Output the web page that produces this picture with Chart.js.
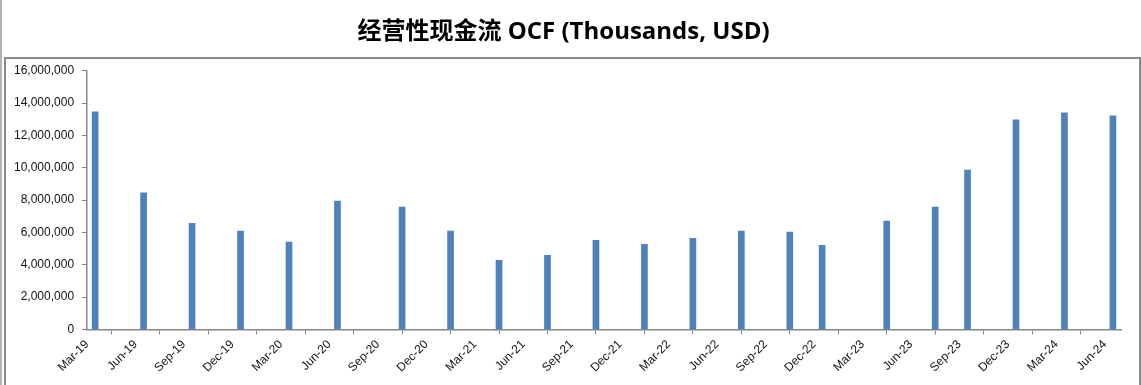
<!DOCTYPE html>
<html>
<head>
<meta charset="utf-8">
<script src="https://cdn.jsdelivr.net/npm/chart.js@4.4.1/dist/chart.umd.min.js"></script>
<style>
  html, body { margin: 0; padding: 0; background: #fff; overflow: hidden; }
  #wrap { position: relative; width: 1141px; height: 385px; }
  #outerLine { position: absolute; left: 0; top: 0; width: 2px; height: 385px; background: #b4b4b4; }
  #plotBox { position: absolute; left: 4px; top: 57px; width: 1133px; height: 340px;
             border: 2px solid #8a8a8a; pointer-events: none; }
  canvas { position: absolute; left: 0; top: 0; }
</style>
</head>
<body>
<div id="wrap">
  <div id="outerLine"></div>
  <div id="plotBox"></div>
  <canvas id="ocfChart" width="1141" height="385"></canvas>
</div>
<script>
// Chart data
const barMonths = ["Mar-19", "Jun-19", "Sep-19", "Dec-19", "Mar-20", "Jun-20", "Oct-20", "Jan-21",
  "Apr-21", "Jul-21", "Oct-21", "Jan-22", "Apr-22", "Jul-22", "Oct-22", "Dec-22",
  "Apr-23", "Jul-23", "Sep-23", "Dec-23", "Mar-24", "Jun-24"];
const ocfValues = [13460000, 8450000, 6570000, 6080000, 5400000, 7940000, 7570000, 6080000,
  4280000, 4590000, 5520000, 5270000, 5640000, 6080000, 6020000, 5210000,
  6700000, 7570000, 9860000, 12960000, 13400000, 13210000];
const tickLabels = ["Mar-19", "Jun-19", "Sep-19", "Dec-19", "Mar-20", "Jun-20", "Sep-20", "Dec-20",
  "Mar-21", "Jun-21", "Sep-21", "Dec-21", "Mar-22", "Jun-22", "Sep-22", "Dec-22",
  "Mar-23", "Jun-23", "Sep-23", "Dec-23", "Mar-24", "Jun-24"];

const monthNames = ["Jan", "Feb", "Mar", "Apr", "May", "Jun", "Jul", "Aug", "Sep", "Oct", "Nov", "Dec"];

// month slot counted from Mar-19 (date axis with month base unit)
function monthIndex(label) {
  const [m, y] = label.split("-");
  return (Number(y) - 19) * 12 + monthNames.indexOf(m) - 2;
}

const points = barMonths.map((m, i) => ({ x: monthIndex(m) + 0.5, y: ocfValues[i] }));
const lastMonth = monthIndex(tickLabels[tickLabels.length - 1]) + 1;

const axisGrey = "#868686";
const tickFont = { family: '"Liberation Sans", Arial, sans-serif', size: 12 };

const ctx = document.getElementById("ocfChart").getContext("2d");
new Chart(ctx, {
  type: "bar",
  data: {
    datasets: [
      {
        label: "OCF",
        data: points,
        backgroundColor: "#4F81BD",
        borderWidth: 0,
        barThickness: 6,
      },
    ],
  },
  options: {
    responsive: false,
    animation: false,
    layout: { padding: { left: 6, right: 20, top: 0, bottom: 7 } },
    plugins: {
      legend: { display: false },
      tooltip: { enabled: false },
      title: {
        display: true,
        text: "经营性现金流 OCF (Thousands, USD)",
        color: "#000",
        font: { family: '"Open Sans", "Noto Sans CJK SC", sans-serif', size: 24, weight: "bold" },
        padding: { top: 18, bottom: 24 },
      },
    },
    scales: {
      x: {
        type: "linear",
        min: 0,
        max: lastMonth,
        offset: false,
        grid: { display: true, drawOnChartArea: false, drawTicks: true, tickLength: 5, color: axisGrey },
        border: { color: axisGrey, width: 1.5 },
        ticks: {
          stepSize: 3,
          includeBounds: false,
          autoSkip: false,
          maxRotation: 45,
          minRotation: 45,
          color: "#111",
          font: tickFont,
          callback: (v) => tickLabels[v / 3] ?? "",
        },
      },
      y: {
        min: 0,
        max: 16000000,
        grid: { display: true, drawOnChartArea: false, drawTicks: true, tickLength: 5, color: axisGrey },
        border: { color: axisGrey, width: 1.5 },
        ticks: {
          stepSize: 2000000,
          padding: 8,
          color: "#111",
          font: tickFont,
          callback: (v) => v.toLocaleString("en-US"),
        },
      },
    },
  },
});
</script>
</body>
</html>
